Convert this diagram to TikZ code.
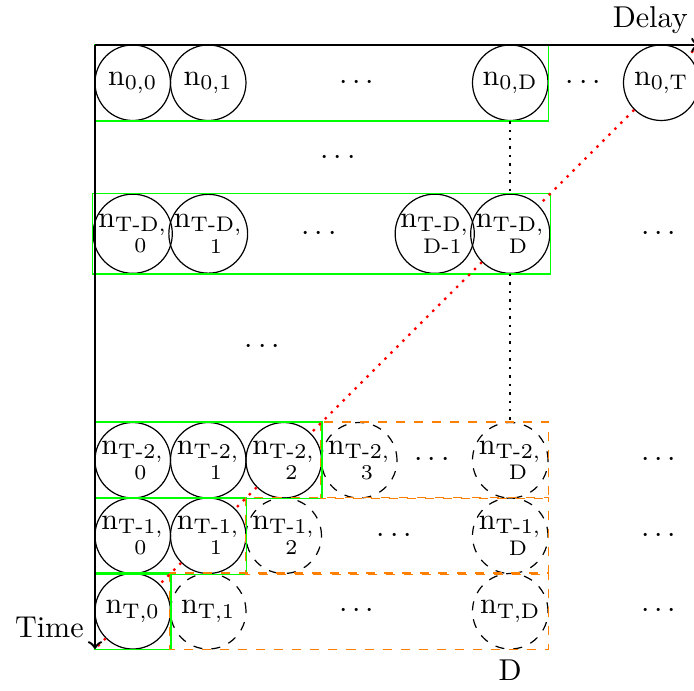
\documentclass[tikz,border=0pt]{standalone}
\usepackage{amsmath}
\usepackage{tikz}

% n with a one-line or a two-line index
\newcommand{\nn}[1]{n$_{\text{#1}}$}
\newcommand{\nnn}[2]{n$_{\substack{\text{#1},\\ \text{#2}}}$}

\begin{document}
\begin{tikzpicture}[x=0.88cm, y=0.88cm,
    cell/.style={circle, draw, minimum size=0.88cm, inner sep=0pt},
    later/.style={cell, dashed},
    known/.style={draw=green},
    pending/.style={draw=orange, dashed},
    diag/.style={red, thick, dotted}]
    \useasboundingbox (-1.258,0.596) rectangle (7.934,-8.543);

    \coordinate (origin) at (0,0);
    \coordinate (delayend) at (8,0);
    \coordinate (timeend) at (0,-8);

    % row 0
    \node[cell] (n00) at (0.5,-0.5) {\nn{0,0}};
    \node[cell] (n01) at (1.5,-0.5) {\nn{0,1}};
    \node (d0a) at (3.5,-0.5) {$\cdots$};
    \node[cell] (n0D) at (5.5,-0.5) {\nn{0,D}};
    \node (d0b) at (6.5,-0.5) {$\cdots$};
    \node[cell] (n0T) at (7.5,-0.5) {\nn{0,T}};

    \node (d1) at (3.25,-1.5) {$\cdots$};

    % row T-D
    \node[cell] (nTD0) at (0.5,-2.5) {\nnn{T-D}{0}};
    \node[cell] (nTD1) at (1.5,-2.5) {\nnn{T-D}{1}};
    \node (d2a) at (3,-2.5) {$\cdots$};
    \node[cell] (nTDDm) at (4.5,-2.5) {\nnn{T-D}{D-1}};
    \node[cell] (nTDD) at (5.5,-2.5) {\nnn{T-D}{D}};
    \node (d2b) at (7.5,-2.5) {$\cdots$};

    \node (d3) at (2.25,-4) {$\cdots$};

    % row T-2
    \node[cell] (nT20) at (0.5,-5.5) {\nnn{T-2}{0}};
    \node[cell] (nT21) at (1.5,-5.5) {\nnn{T-2}{1}};
    \node[cell] (nT22) at (2.5,-5.5) {\nnn{T-2}{2}};
    \node[later] (nT23) at (3.5,-5.5) {\nnn{T-2}{3}};
    \node (d5a) at (4.5,-5.5) {$\cdots$};
    \node[later] (nT2D) at (5.5,-5.5) {\nnn{T-2}{D}};
    \node (d5b) at (7.5,-5.5) {$\cdots$};

    % row T-1
    \node[cell] (nT10) at (0.5,-6.5) {\nnn{T-1}{0}};
    \node[cell] (nT11) at (1.5,-6.5) {\nnn{T-1}{1}};
    \node[later] (nT12) at (2.5,-6.5) {\nnn{T-1}{2}};
    \node (d6a) at (4,-6.5) {$\cdots$};
    \node[later] (nT1D) at (5.5,-6.5) {\nnn{T-1}{D}};
    \node (d6b) at (7.5,-6.5) {$\cdots$};

    % row T
    \node[cell] (nT0) at (0.5,-7.5) {\nn{T,0}};
    \node[later] (nT1) at (1.5,-7.5) {\nn{T,1}};
    \node (d7a) at (3.5,-7.5) {$\cdots$};
    \node[later] (nTD) at (5.5,-7.5) {\nn{T,D}};
    \node (d7b) at (7.5,-7.5) {$\cdots$};
    \node[below] (dlabel) at (nTD.south) {D};

    % computed parts of each row
    \draw[known] (n00.west |- n00.north) rectangle (n0D.east |- n0D.south);
    \draw[known] (nTD0.west |- nTD0.north) rectangle (nTDD.east |- nTDD.south);
    \draw[known] (nT20.west |- nT20.north) rectangle (nT22.east |- nT22.south);
    \draw[known] (nT10.west |- nT10.north) rectangle (nT11.east |- nT11.south);
    \draw[known] (nT0.west |- nT0.north) rectangle (nT0.east |- nT0.south);

    % parts still to come
    \draw[pending] (nT23.west |- nT23.north) rectangle (nT2D.east |- nT2D.south);
    \draw[pending] (nT12.west |- nT12.north) rectangle (nT1D.east |- nT1D.south);
    \draw[pending] (nT1.west |- nT1.north) rectangle (nTD.east |- nTD.south);

    % column D
    \draw[thick, dotted] (n0D) -- (nTDD);
    \draw[thick, dotted] (nTDD) -- (nT2D);

    % anti-diagonal
    \draw[diag] (delayend) -- (n0T.north east)
        (n0T.south west) -- (nTDD.north east)
        (nTDD.south west) -- (nT22.north east)
        (nT22.south west) -- (nT11.north east)
        (nT11.south west) -- (nT0.north east)
        (nT0.south west) -- (timeend);

    % axes
    \draw[->, thick] (origin) -- (delayend) node[above left] {Delay};
    \draw[->, thick] (origin) -- (timeend) node[above left] {Time};
\end{tikzpicture}
\end{document}
